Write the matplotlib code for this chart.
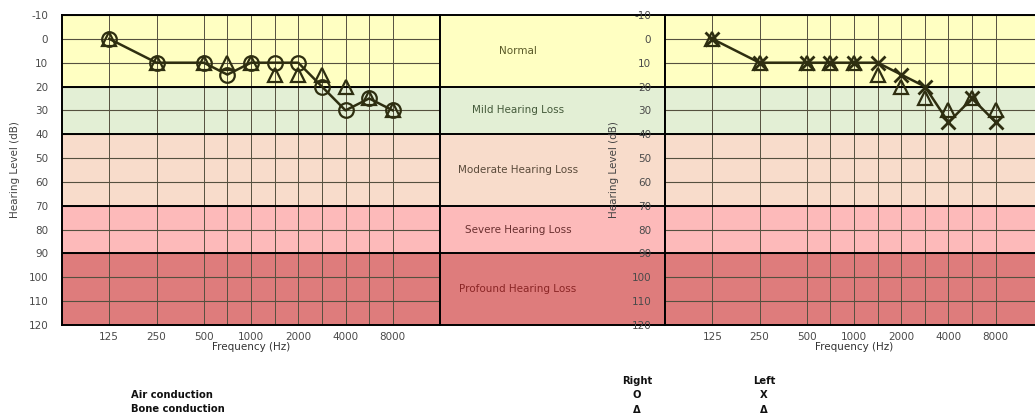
import matplotlib
matplotlib.use("Agg")
import matplotlib.pyplot as plt
import numpy as np

# ---- data ----
freqs = [125, 250, 500, 750, 1000, 1500, 2000, 3000, 4000, 6000, 8000]
freq_pos = [1, 2, 3, 3.5, 4, 4.5, 5, 5.5, 6, 6.5, 7]
tick_labels = ["125", "250", "500", "1000", "2000", "4000", "8000"]
tick_pos = [1, 2, 3, 4, 5, 6, 7]

right_air = [0, 10, 10, 15, 10, 10, 10, 20, 30, 25, 30]
right_bone = [0, 10, 10, 10, 10, 15, 15, 15, 20, 25, 30]
left_air = [0, 10, 10, 10, 10, 10, 15, 20, 35, 25, 35]
left_bone = [0, 10, 10, 10, 10, 15, 20, 25, 30, 25, 30]

band_names = ["Normal", "Mild Hearing Loss", "Moderate Hearing Loss",
              "Severe Hearing Loss", "Profound Hearing Loss"]
band_lo = [-10, 20, 40, 70, 90]
band_hi = [20, 40, 70, 90, 120]
band_colors = ["#FFFFC2", "#E3EFD5", "#F8DCCB", "#FDBABA", "#DE7C7C"]
band_text_colors = ["#5A5A28", "#445A3A", "#5A4A3A", "#6A3030", "#8A2525"]

W, H = 1035, 416
fig = plt.figure(figsize=(W / 100, H / 100), dpi=100)

y0 = (H - 325) / H
hgt = 310 / H

line_col = "#2E2E10"
grid_col = "#55503f"


def draw_bands(ax):
    for lo, hi, c in zip(band_lo, band_hi, band_colors):
        ax.axhspan(lo, hi, color=c, zorder=0, lw=0)
    for b in [20, 40, 70, 90]:
        ax.axhline(b, color="black", lw=1.4, zorder=2)


def audiogram(ax, air, bone, air_marker):
    ax.set_xlim(0, 8)
    ax.set_ylim(120, -10)
    draw_bands(ax)
    for y in range(-10, 121, 10):
        ax.axhline(y, color=grid_col, lw=0.8, zorder=1)
    for p in freq_pos:
        ax.axvline(p, color=grid_col, lw=0.7, zorder=1)
    ax.set_yticks(range(-10, 121, 10))
    ax.set_yticklabels([str(v) for v in range(-10, 121, 10)])
    ax.set_xticks(tick_pos)
    ax.set_xticklabels(tick_labels)
    ax.tick_params(axis="both", length=0, labelsize=7.5, labelcolor="#4a4a4a")
    ax.tick_params(axis="y", pad=10)
    ax.tick_params(axis="x", pad=5)
    for s in ax.spines.values():
        s.set_color("black")
        s.set_linewidth(1.4)
    ax.set_xlabel("Frequency (Hz)", fontsize=7.5, color="#333333", labelpad=0)
    ax.set_ylabel("Hearing Level (dB)", fontsize=7.5, color="#444444", labelpad=4)
    ax.plot(freq_pos, bone, linestyle="none", marker="^", ms=9.5, mfc="none",
            mec=line_col, mew=1.6, zorder=4)
    if air_marker == "o":
        ax.plot(freq_pos, air, color=line_col, lw=1.8, marker="o", ms=10.5,
                mfc="none", mec=line_col, mew=1.6, zorder=5)
    else:
        ax.plot(freq_pos, air, color=line_col, lw=1.8, marker="x", ms=9.5,
                mec=line_col, mew=2.0, zorder=5)


# left chart (right ear)
axL = fig.add_axes([62 / W, y0, 378 / W, hgt])
audiogram(axL, right_air, right_bone, "o")
axL.yaxis.set_label_coords(-0.11, 0.5)

# middle panel
axM = fig.add_axes([440 / W, y0, 225 / W, hgt])
axM.set_xlim(0, 1)
axM.set_ylim(120, -10)
for lo, hi, c, name, tc in zip(band_lo, band_hi, band_colors, band_names, band_text_colors):
    axM.axhspan(lo, hi, color=c, zorder=0, lw=0)
    axM.text(78 / 225, (lo + hi) / 2, name, ha="center", va="center",
             fontsize=7.5, color=tc, zorder=3)
for b in [20, 40, 70, 90]:
    axM.axhline(b, color="black", lw=1.4, zorder=2)
axM.set_xticks([])
axM.set_yticks([])
for s in axM.spines.values():
    s.set_color("black")
    s.set_linewidth(1.4)

# right chart (left ear)
axR = fig.add_axes([665 / W, y0, 378 / W, hgt])
audiogram(axR, left_air, left_bone, "x")
axR.yaxis.set_label_coords(-0.122, 0.5)

# legend text
fs = 7.2
kw = dict(fontsize=fs, fontweight="bold", va="baseline", color="#111111")
fig.text(131 / W, 1 - 398 / H, "Air conduction", ha="left", **kw)
fig.text(131 / W, 1 - 412 / H, "Bone conduction", ha="left", **kw)
fig.text(637 / W, 1 - 384 / H, "Right", ha="center", **kw)
fig.text(764 / W, 1 - 384 / H, "Left", ha="center", **kw)
fig.text(637 / W, 1 - 398 / H, "O", ha="center", **kw)
fig.text(764 / W, 1 - 398 / H, "X", ha="center", **kw)
fig.text(637 / W, 1 - 413 / H, "Δ", ha="center", **kw)
fig.text(764 / W, 1 - 413 / H, "Δ", ha="center", **kw)

fig.savefig("out.png", dpi=100)
